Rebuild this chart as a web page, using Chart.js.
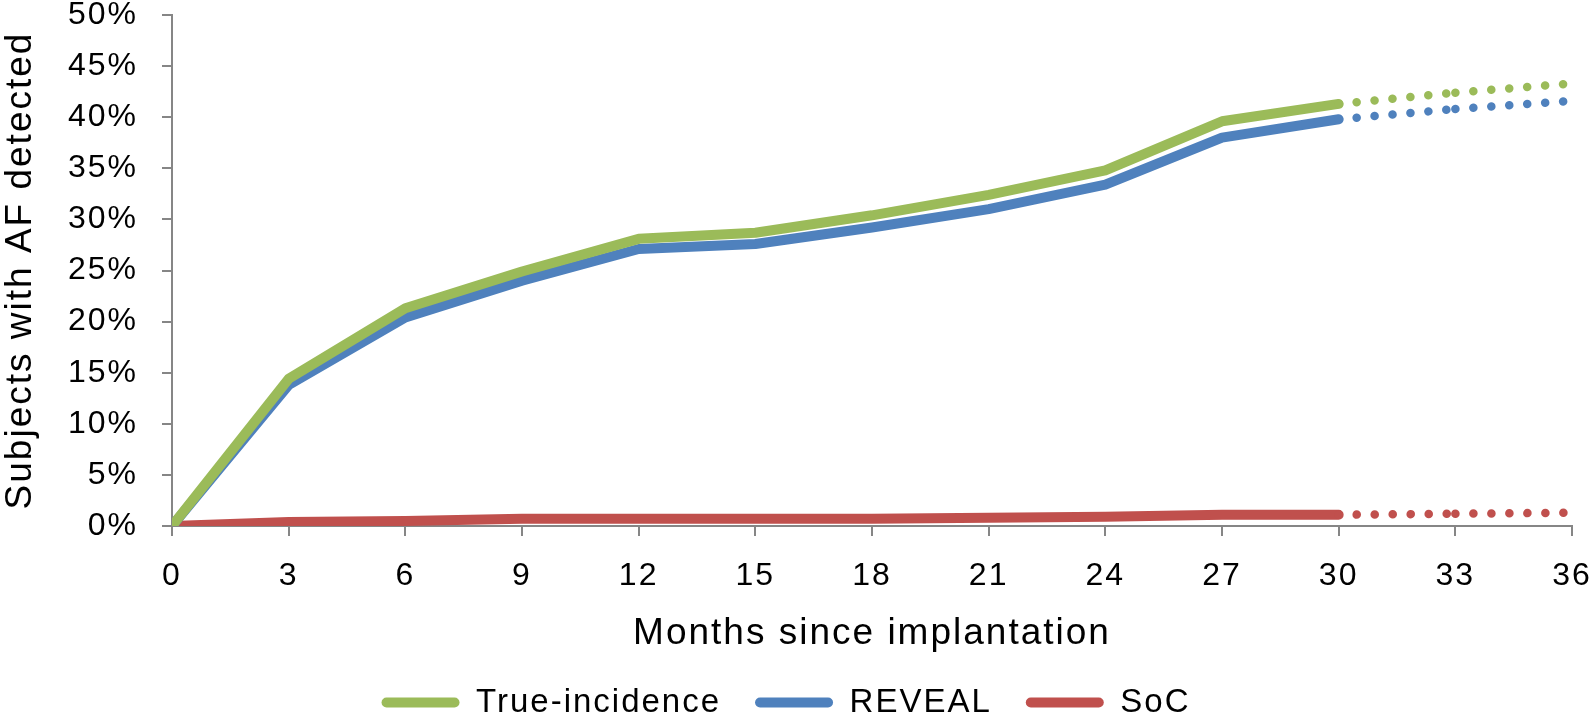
<!DOCTYPE html>
<html>
<head>
<meta charset="utf-8">
<script src="https://cdn.jsdelivr.net/npm/chart.js@4"></script>
<style>
  html, body { margin: 0; padding: 0; background: #fff; }
  #wrap { width: 1594px; height: 716px; }
</style>
</head>
<body>
<div id="wrap"><canvas id="afChart"></canvas></div>
<script>
// ── Data ──────────────────────────────────────────────────────
const months       = [0, 3, 6, 9, 12, 15, 18, 21, 24, 27, 30];
const trueIncid    = [0, 14.4, 21.3, 24.9, 28.1, 28.7, 30.4, 32.4, 34.8, 39.6, 41.3];
const reveal       = [0, 13.8, 20.4, 24.0, 27.1, 27.6, 29.2, 31.0, 33.4, 38.0, 39.8];
const soc          = [0, 0.4, 0.5, 0.7, 0.7, 0.7, 0.7, 0.8, 0.9, 1.1, 1.1];

// projected part (dotted)
const projMonths   = [30, 33, 36];
const trueProj     = [41.3, 42.4, 43.3];
const revealProj   = [39.8, 40.8, 41.6];
const socProj      = [1.1, 1.2, 1.3];

const yTicks       = [0, 5, 10, 15, 20, 25, 30, 35, 40, 45, 50];

const GREEN = '#9BBB59';
const BLUE  = '#4F81BD';
const RED   = '#C0504D';
const AXIS  = '#868686';

const pts = (xs, ys) => xs.map((x, i) => ({ x, y: ys[i] }));

const solid = (label, xs, ys, color) => ({
  label,
  data: pts(xs, ys),
  borderColor: color,
  backgroundColor: color,
  borderWidth: 10,
  pointRadius: 0,
  tension: 0,
  borderCapStyle: 'round',
  borderJoinStyle: 'round'
});

// one dataset per 3-month step so the dot pattern restarts at each point
const dotted = (xs, ys, color) => xs.slice(1).map((x, i) => ({
  label: '_proj',
  data: pts(xs.slice(i, i + 2), ys.slice(i, i + 2)),
  borderColor: color,
  backgroundColor: color,
  borderWidth: 8.5,
  borderDash: [0.1, 17.9],
  borderDashOffset: -18,
  borderCapStyle: 'round',
  pointRadius: 0,
  tension: 0
}));

// ── Letter spacing (reference text is slightly spaced out) ────
const spacing = {
  id: 'spacing',
  beforeUpdate: chart => { chart.ctx.letterSpacing = '2px'; },
  beforeDraw:   chart => { chart.ctx.letterSpacing = '2px'; }
};

// ── Chart ─────────────────────────────────────────────────────
Chart.defaults.font.family = '"Liberation Sans", Arial, sans-serif';
Chart.defaults.color = '#000';

new Chart(document.getElementById('afChart'), {
  type: 'line',
  data: {
    datasets: [
      ...dotted(projMonths, trueProj, GREEN),
      ...dotted(projMonths, revealProj, BLUE),
      ...dotted(projMonths, socProj, RED),
      solid('True-incidence', months, trueIncid, GREEN),
      solid('REVEAL', months, reveal, BLUE),
      solid('SoC', months, soc, RED)
    ]
  },
  plugins: [spacing],
  options: {
    animation: false,
    responsive: true,
    maintainAspectRatio: false,
    layout: { padding: { top: 15, right: 22, bottom: -13, left: 0 } },
    plugins: {
      tooltip: { enabled: false },
      legend: {
        position: 'bottom',
        labels: {
          filter: item => item.text !== '_proj',
          boxWidth: 78,
          boxHeight: 10,
          padding: 34,
          font: { size: 33 },
          color: '#000',
          generateLabels: chart => {
            const items = Chart.defaults.plugins.legend.labels.generateLabels(chart);
            return items.map(it => ({ ...it, lineWidth: 0, borderRadius: 5 }));
          }
        }
      }
    },
    scales: {
      x: {
        type: 'linear',
        min: 0,
        max: 36,
        afterFit: axis => { axis.height = 126; axis.paddingLeft = 0; axis.paddingRight = 0; },
        ticks: { stepSize: 3, font: { size: 32 }, color: '#000', padding: 21 },
        grid: { drawOnChartArea: false, drawTicks: true, tickLength: 10, color: AXIS, lineWidth: 2 },
        border: { color: AXIS, width: 2 },
        title: {
          display: true,
          text: 'Months since implantation',
          font: { size: 37, lineHeight: 1 },
          color: '#000',
          padding: { top: 0, bottom: 0 }
        }
      },
      y: {
        min: 0,
        max: 50,
        afterFit: axis => { axis.width = 172; axis.paddingTop = 0; axis.paddingBottom = 0; },
        afterBuildTicks: axis => { axis.ticks = yTicks.map(v => ({ value: v })); },
        ticks: { font: { size: 32 }, color: '#000', padding: 24, callback: v => v + '%' },
        grid: { drawOnChartArea: false, drawTicks: true, tickLength: 10, color: AXIS, lineWidth: 2 },
        border: { color: AXIS, width: 2 },
        title: {
          display: true,
          text: 'Subjects with AF detected',
          font: { size: 37, lineHeight: 1 },
          color: '#000',
          padding: { top: 2, bottom: 0 }
        }
      }
    }
  }
});
</script>
</body>
</html>
